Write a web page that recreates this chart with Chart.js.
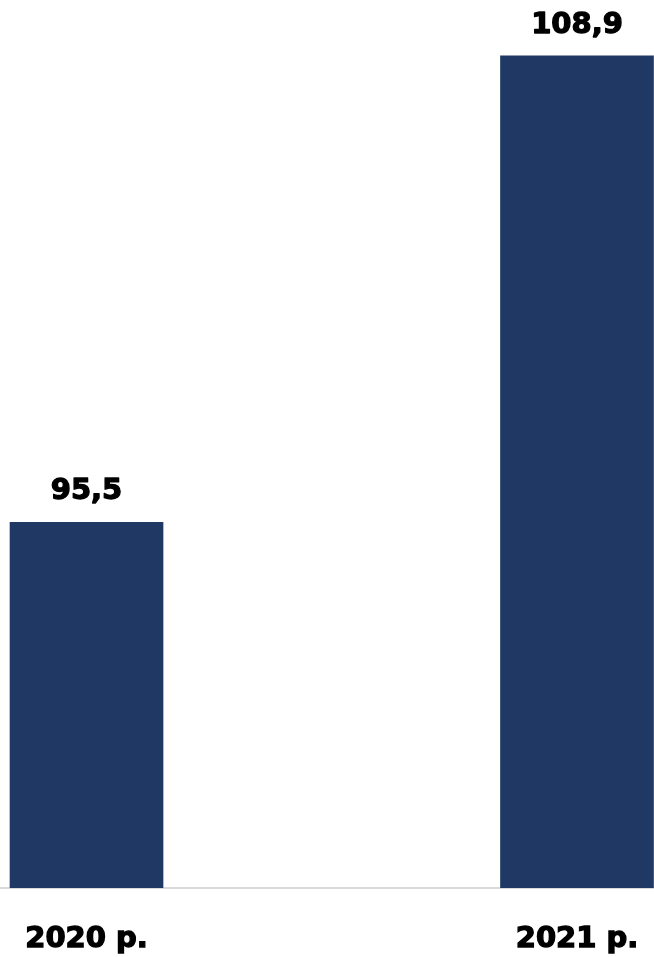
<!DOCTYPE html>
<html>
<head>
<meta charset="utf-8">
<script src="https://cdn.jsdelivr.net/npm/chart.js@4/dist/chart.umd.min.js"></script>
<style>
  html, body { margin: 0; padding: 0; background: #fff; }
  #wrap { width: 654px; height: 957px; position: relative; }
</style>
</head>
<body>
<div id="wrap"><canvas id="chart"></canvas></div>
<script>
// дані
const categories = ['2020 р.', '2021 р.'];
const values = [95.5, 108.9];

const FONT = '"DejaVu Sans", sans-serif';

// підписи над стовпчиками
const valueLabels = {
  id: 'valueLabels',
  afterDatasetsDraw(chart) {
    const ctx = chart.ctx;
    const meta = chart.getDatasetMeta(0);
    ctx.save();
    ctx.font = 'bold 29px ' + FONT;
    ctx.fillStyle = '#000';
    ctx.strokeStyle = '#000';
    ctx.lineWidth = 1.3;
    ctx.lineJoin = 'round';
    ctx.textAlign = 'center';
    ctx.textBaseline = 'alphabetic';
    meta.data.forEach((bar, i) => {
      const txt = values[i].toFixed(1).replace('.', ',');
      ctx.strokeText(txt, bar.x, bar.y - 23);
      ctx.fillText(txt, bar.x, bar.y - 23);
    });
    ctx.restore();
  }
};

const ctx = document.getElementById('chart').getContext('2d');
new Chart(ctx, {
  type: 'bar',
  data: {
    datasets: [{
      data: values.map((v, i) => ({ x: i, y: v })),
      backgroundColor: '#203864',
      barThickness: 153
    }]
  },
  options: {
    responsive: true,
    maintainAspectRatio: false,
    animation: false,
    layout: { padding: 0 },
    plugins: {
      legend: { display: false },
      tooltip: { enabled: false }
    },
    scales: {
      x: {
        type: 'linear',
        offset: false,
        min: -0.1764,
        max: 1.157,
        grid: { display: false, drawTicks: false, offset: false },
        border: { display: true, color: '#d9d9d9', width: 2 },
        afterBuildTicks(scale) {
          scale.ticks = categories.map((c, i) => ({ value: i }));
        },
        afterFit(scale) {
          scale.height = 69;
          scale.paddingLeft = 0;
          scale.paddingRight = 0;
        },
        ticks: {
          padding: 34,
          maxRotation: 0,
          autoSkip: false,
          color: '#000',
          textStrokeColor: '#000',
          textStrokeWidth: 1.3,
          font: { family: FONT, size: 29, weight: 'bold' },
          callback: (v) => categories[v]
        }
      },
      y: {
        display: false,
        min: 85,
        max: 110.5
      }
    }
  },
  plugins: [valueLabels]
});
</script>
</body>
</html>
